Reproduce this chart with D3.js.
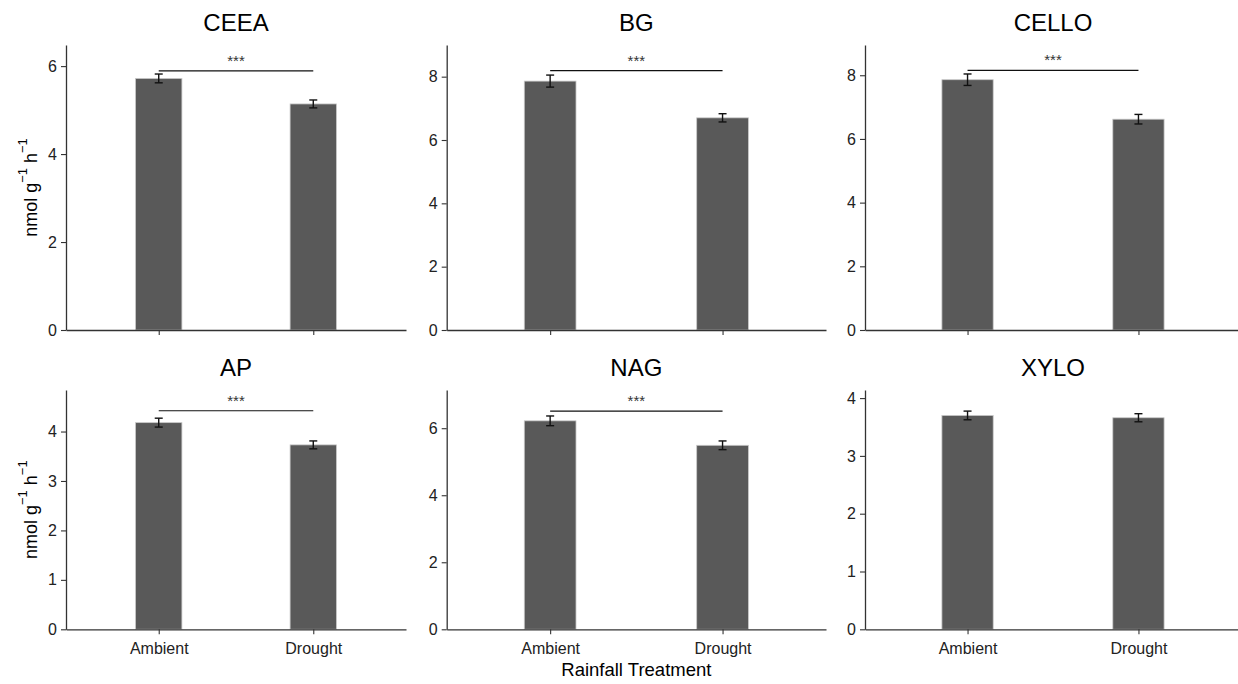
<!DOCTYPE html>
<html>
<head>
<meta charset="utf-8">
<script src="https://cdn.jsdelivr.net/npm/d3@7"></script>
<style>
  html, body { margin: 0; padding: 0; background: #fff; }
  svg { display: block; font-family: "Liberation Sans", Arial, sans-serif; }
</style>
</head>
<body>
<svg id="chart" width="1238" height="684"></svg>
<script>
// ---- data ----
const categories = ["Ambient", "Drought"];
const panels = ["CEEA", "BG", "CELLO", "AP", "NAG", "XYLO"];
const ambientMean = [5.72, 7.86, 7.86, 4.18, 6.22, 3.70];
const droughtMean = [5.14, 6.70, 6.62, 3.73, 5.49, 3.66];
const ambientSE   = [0.10, 0.19, 0.18, 0.09, 0.145, 0.075];
const droughtSE   = [0.09, 0.13, 0.15, 0.08, 0.13, 0.07];
const yMax        = [6.48, 9.0, 8.95, 4.84, 7.14, 4.14];
const yTicks = [
  [0, 2, 4, 6],
  [0, 2, 4, 6, 8],
  [0, 2, 4, 6, 8],
  [0, 1, 2, 3, 4],
  [0, 2, 4, 6],
  [0, 1, 2, 3, 4]
];
const sigLabel = ["***", "***", "***", "***", "***", ""];
const sigY     = [5.89, 8.19, 8.15, 4.42, 6.51, null];
const yAxisTitle = "nmol g";
const xAxisTitle = "Rainfall Treatment";

// ---- layout ----
const colX = [[66, 406], [446.7, 826], [865, 1241]];
const rowY = [[45, 330], [390, 629.3]];

const svg = d3.select("#chart");
const axisColor = "#333";

panels.forEach((name, i) => {
  const col = i % 3, row = Math.floor(i / 3);
  const [x0, x1] = colX[col];
  const [yTop, yBot] = rowY[row];

  const x = d3.scalePoint().domain(categories).range([x0, x1]).padding(0.6);
  const y = d3.scaleLinear().domain([0, yMax[i]]).range([yBot, yTop]);
  const bw = x.step() * 0.3;

  const g = svg.append("g");

  const data = categories.map((c, k) => ({
    cat: c,
    mean: k === 0 ? ambientMean[i] : droughtMean[i],
    se: k === 0 ? ambientSE[i] : droughtSE[i]
  }));

  // bars
  g.selectAll("rect.bar").data(data).join("rect")
    .attr("class", "bar")
    .attr("x", d => x(d.cat) - bw / 2)
    .attr("width", bw)
    .attr("y", d => y(d.mean))
    .attr("height", d => y(0) - y(d.mean))
    .attr("fill", "#595959")
    .attr("stroke", "#c9c9c9")
    .attr("stroke-width", 0.8);

  // error bars
  const capW = 8;
  const eb = g.selectAll("g.eb").data(data).join("g").attr("class", "eb")
    .attr("stroke", "#111").attr("stroke-width", 1.4);
  eb.append("line")
    .attr("x1", d => x(d.cat)).attr("x2", d => x(d.cat))
    .attr("y1", d => y(d.mean + d.se)).attr("y2", d => y(d.mean - d.se));
  eb.append("line")
    .attr("x1", d => x(d.cat) - capW / 2).attr("x2", d => x(d.cat) + capW / 2)
    .attr("y1", d => y(d.mean + d.se)).attr("y2", d => y(d.mean + d.se));
  eb.append("line")
    .attr("x1", d => x(d.cat) - capW / 2).attr("x2", d => x(d.cat) + capW / 2)
    .attr("y1", d => y(d.mean - d.se)).attr("y2", d => y(d.mean - d.se));

  // significance bracket
  if (sigLabel[i]) {
    g.append("line")
      .attr("x1", x(categories[0])).attr("x2", x(categories[1]))
      .attr("y1", y(sigY[i])).attr("y2", y(sigY[i]))
      .attr("stroke", "#111").attr("stroke-width", 1.2);
    g.append("text")
      .attr("x", (x(categories[0]) + x(categories[1])) / 2)
      .attr("y", y(sigY[i]) - 5)
      .attr("text-anchor", "middle")
      .attr("font-size", 15)
      .attr("fill", "#333")
      .text(sigLabel[i]);
  }

  // axes
  const yAxis = d3.axisLeft(y).tickValues(yTicks[i]).tickSize(5).tickSizeOuter(0).tickPadding(4)
    .tickFormat(d3.format("d"));
  const ya = g.append("g").attr("transform", `translate(${x0},0)`).call(yAxis);

  const xAxis = d3.axisBottom(x).tickSize(5).tickSizeOuter(0).tickPadding(5);
  const xa = g.append("g").attr("transform", `translate(0,${yBot})`).call(xAxis);
  if (row === 0) xa.selectAll(".tick text").remove();

  [ya, xa].forEach(a => {
    a.select(".domain").attr("stroke", axisColor).attr("stroke-width", 1.3);
    a.selectAll(".tick line").attr("stroke", axisColor).attr("stroke-width", 1.1);
    a.selectAll(".tick text").attr("fill", "#222").attr("font-size", 16)
      .attr("font-family", "'Liberation Sans', Arial, sans-serif");
  });
  xa.selectAll(".tick text").attr("dy", "0.95em");

  // title
  svg.append("text")
    .attr("x", (x0 + x1) / 2)
    .attr("y", yTop - 14.5)
    .attr("text-anchor", "middle")
    .attr("font-size", 24)
    .attr("fill", "#000")
    .text(name);

  // y axis title (left column)
  if (col === 0) {
    const t = svg.append("text")
      .attr("transform", `translate(37,${(yTop + yBot) / 2}) rotate(-90)`)
      .attr("text-anchor", "middle")
      .attr("font-size", 18)
      .attr("fill", "#000");
    t.append("tspan").text(yAxisTitle);
    t.append("tspan").attr("font-size", 13).attr("dy", -10).text("\u22121");
    t.append("tspan").attr("dy", 10).text(" h");
    t.append("tspan").attr("font-size", 13).attr("dy", -10).text("\u22121");
  }

  // x axis title (middle of bottom row)
  if (row === 1 && col === 1) {
    svg.append("text")
      .attr("x", (x0 + x1) / 2)
      .attr("y", 676)
      .attr("text-anchor", "middle")
      .attr("font-size", 18.5)
      .attr("fill", "#000")
      .text(xAxisTitle);
  }
});
</script>
</body>
</html>
